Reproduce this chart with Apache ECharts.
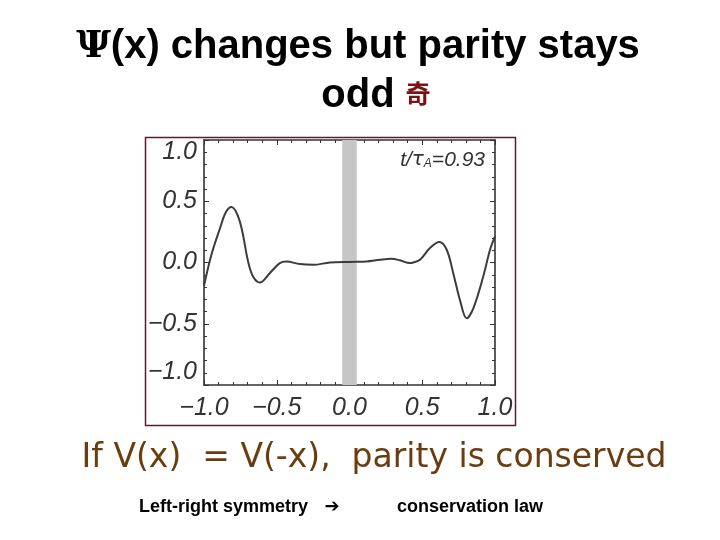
<!DOCTYPE html>
<html>
<head>
<meta charset="utf-8">
<script src="https://cdn.jsdelivr.net/npm/echarts@6/dist/echarts.min.js"></script>
<style>html,body{margin:0;padding:0;background:#fff;}#c{width:720px;height:540px;}</style>
</head>
<body>
<div id="c"></div>
<script>
// Data
var xValues = [-1.0, -0.95, -0.89, -0.85, -0.812, -0.754, -0.697, -0.663, -0.617, -0.548, -0.479, -0.433, -0.342, -0.25, -0.135, 0.0, 0.117, 0.209, 0.289, 0.346, 0.415, 0.438, 0.484, 0.553, 0.617, 0.668, 0.713, 0.759, 0.805, 0.851, 0.919, 0.966, 1.0];
var psiValues = [-0.19, 0.06, 0.28, 0.41, 0.454, 0.336, 0.008, -0.115, -0.164, -0.087, -0.005, 0.008, -0.013, -0.019, 0.0, 0.005, 0.008, 0.022, 0.03, 0.018, -0.005, 0.0, 0.022, 0.118, 0.167, 0.104, -0.087, -0.306, -0.456, -0.374, -0.115, 0.104, 0.213];
var bandRange = [-0.05, 0.05];
var xTicks = [-1.0, -0.5, 0.0, 0.5, 1.0];
var yTicks = [-1.0, -0.5, 0.0, 0.5, 1.0];
var titleLine1 = '(x) changes but parity stays';
var titlePsi = 'Ψ';
var titleLine2 = 'odd';
var titleChar = '奇';
var ruleText = 'If V(x)  = V(-x),  parity is conserved';
var footLeft = 'Left-right symmetry';
var footArrow = '➔';
var footRight = 'conservation law';

var seriesData = xValues.map(function (x, i) { return [x, psiValues[i]]; });
function fmt(v) { var s = Math.abs(v).toFixed(1); return (v < 0 ? '\u2212' : '') + s; }

var lineColor = '#333333';
var axisCommon = {
  type: 'value', min: -1, max: 1, interval: 0.5,
  axisLine: { show: true, onZero: false, lineStyle: { color: lineColor, width: 1.6 } },
  axisTick: { show: true, inside: true, length: 5, lineStyle: { color: lineColor, width: 1 } },
  minorTick: { show: true, splitNumber: 5, length: 3, lineStyle: { color: lineColor, width: 1 } },
  splitLine: { show: false }, minorSplitLine: { show: false }
};
function ax(extra) { return Object.assign({}, JSON.parse(JSON.stringify(axisCommon)), extra); }

var chart = echarts.init(document.getElementById('c'), null, { renderer: 'canvas' });
chart.setOption({
  backgroundColor: '#ffffff',
  animation: false,
  grid: { left: 204, right: 225, top: 140, bottom: 155 },
  xAxis: [
    ax({ position: 'bottom', axisLabel: { show: true, margin: 11, color: '#333', fontSize: 25, fontStyle: 'italic', fontFamily: 'Liberation Sans', formatter: function (v) { return xTicks.indexOf(v) >= 0 ? fmt(v) : ''; } } }),
    ax({ position: 'top', axisLabel: { show: false } })
  ],
  yAxis: [
    ax({ position: 'left', axisLabel: { show: true, margin: 7, color: '#333', fontSize: 25, fontStyle: 'italic', fontFamily: 'Liberation Sans', verticalAlignMaxLabel: 'top', verticalAlignMinLabel: 'bottom', formatter: function (v) { return yTicks.indexOf(v) >= 0 ? fmt(v) : ''; } } }),
    ax({ position: 'right', axisLabel: { show: false } })
  ],
  series: [{
    type: 'line', data: seriesData, smooth: 0.35, showSymbol: false,
    lineStyle: { color: '#3c3c3c', width: 2 },
    z: 5,
    markArea: {
      silent: true,
      itemStyle: { color: '#c6c6c6', opacity: 1 },
      data: [[{ xAxis: bandRange[0] }, { xAxis: bandRange[1] }]]
    }
  }],
  graphic: [
    { type: 'rect', shape: { x: 145.5, y: 137.5, width: 370, height: 288 }, style: { fill: null, stroke: '#5a1f2e', lineWidth: 1.5 }, z: 10 },
    { type: 'text', x: 358, y: 47, style: { text: '{p|' + titlePsi + '}' + titleLine1, rich: { p: { fontFamily: 'DejaVu Serif', fontSize: 38, fontWeight: 'bold', fill: '#000' } }, font: 'bold 40px "Liberation Sans"', fill: '#000', textAlign: 'center', textVerticalAlign: 'middle' } },
    { type: 'text', x: 358, y: 96, style: { text: titleLine2, font: 'bold 40px "Liberation Sans"', fill: '#000', textAlign: 'center', textVerticalAlign: 'middle' } },
    { type: 'text', x: 418, y: 93, style: { text: titleChar, font: 'bold 25px "Noto Sans CJK SC"', fill: '#7d1010', textAlign: 'center', textVerticalAlign: 'middle' } },
    { type: 'text', x: 485, y: 160, style: { text: 't/{s|τ}{sub|A}=0.93', rich: { s: { fontStyle: 'italic', fontSize: 20, fontFamily: 'DejaVu Sans', fill: '#333' }, sub: { fontStyle: 'italic', fontSize: 12, fontFamily: 'Liberation Sans', fill: '#333', padding: [7, 0, 0, 0] } }, font: 'italic 21px "Liberation Sans"', fill: '#333', textAlign: 'right', textVerticalAlign: 'middle' }, z: 20 },
    { type: 'text', x: 374, y: 458, style: { text: ruleText, font: '33px "DejaVu Sans"', fill: '#6b3d0e', textAlign: 'center', textVerticalAlign: 'middle' } },
    { type: 'text', x: 139, y: 507, style: { text: footLeft, font: 'bold 18px "Liberation Sans"', fill: '#000', textAlign: 'left', textVerticalAlign: 'middle' } },
    { type: 'text', x: 332, y: 507, style: { text: footArrow, font: 'bold 18px "DejaVu Sans"', fill: '#000', textAlign: 'center', textVerticalAlign: 'middle' } },
    { type: 'text', x: 397, y: 507, style: { text: footRight, font: 'bold 18px "Liberation Sans"', fill: '#000', textAlign: 'left', textVerticalAlign: 'middle' } }
  ]
});
</script>
</body>
</html>
